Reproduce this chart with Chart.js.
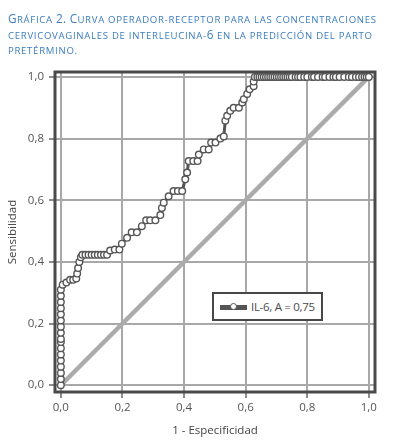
<!DOCTYPE html>
<html><head><meta charset="utf-8">
<script src="https://cdn.jsdelivr.net/npm/chart.js@4/dist/chart.umd.min.js"></script>
<style>
html,body{margin:0;padding:0;background:#fff;}
#wrap{position:relative;width:393px;height:448px;overflow:hidden;}
#title{position:absolute;left:8px;top:11px;width:385px;font-family:"Open Sans",sans-serif;font-size:9.6px;letter-spacing:0.7px;line-height:15px;color:#3b7dbf;text-transform:uppercase;white-space:nowrap;}
#title .c{font-size:11.8px;letter-spacing:0.3px;}
#c{position:absolute;left:0;top:0;}
#legend{position:absolute;left:212px;top:292px;width:111px;height:29px;box-sizing:border-box;border:2px solid #474747;background:#fff;font-family:"Open Sans",sans-serif;font-size:11.5px;color:#4a4a4a;white-space:nowrap;}
#legend .bar{position:absolute;left:6px;top:10.5px;width:27px;height:5px;background:#555;}
#legend .dot{position:absolute;left:15.5px;top:9px;width:5px;height:5px;border:1.5px solid #555;border-radius:50%;background:#fff;}
#legend .txt{position:absolute;left:37px;top:5px;line-height:16px;letter-spacing:-0.3px;}
</style></head>
<body><div id="wrap">
<canvas id="c" width="393" height="448"></canvas>
<div id="title"><span class="c">G</span>ráfica <span class="c">2.</span> <span class="c">C</span>urva operador-receptor para las concentraciones<br>cervicovaginales de interleucina-<span class="c">6</span> en la predicción del parto<br>pretérmino.</div>
<div id="legend"><span class="bar"></span><span class="dot"></span><span class="txt">IL-6, A = 0,75</span></div>
</div>
<script>
const rocX = [0,0,0,0,0,0,0,0,0,0,0,0,0,0,0,0,0,
  0.006,0.018,0.03,0.04,0.05,0.053,0.056,0.06,0.065,0.07,0.08,0.09,0.10,0.11,0.12,0.13,0.14,0.15,
  0.16,0.175,0.19,0.198,0.215,0.23,0.247,0.263,0.277,0.29,0.307,0.323,0.328,0.334,0.35,0.366,0.38,0.394,
  0.404,0.41,0.415,0.43,0.444,0.448,0.464,0.48,0.488,0.502,0.518,0.529,0.534,0.54,0.55,0.561,0.578,
  0.589,0.594,0.605,0.613,0.626,0.626,0.63,
  0.638,0.645,0.652,0.659,0.666,0.673,0.68,0.687,0.694,0.701,0.708,0.715,0.722,0.729,0.736,0.743,0.75,
  0.762,0.77,0.778,0.79,0.80,0.815,0.822,0.835,0.85,0.858,0.872,0.885,0.893,0.905,0.92,0.935,0.945,
  0.958,0.968,0.978,0.986,0.993,1.0];
const rocY = [0,0.02,0.04,0.06,0.08,0.10,0.12,0.14,0.15,0.17,0.19,0.21,0.23,0.25,0.27,0.29,0.31,
  0.326,0.333,0.342,0.342,0.346,0.362,0.38,0.40,0.415,0.423,0.423,0.423,0.423,0.423,0.423,0.423,0.423,0.423,
  0.437,0.44,0.44,0.459,0.478,0.496,0.496,0.516,0.535,0.535,0.535,0.552,0.575,0.592,0.613,0.63,0.63,0.63,
  0.668,0.69,0.727,0.727,0.727,0.748,0.765,0.765,0.787,0.787,0.80,0.807,0.858,0.874,0.89,0.90,0.90,
  0.917,0.928,0.945,0.96,0.97,0.985,1.0,
  1,1,1,1,1,1,1,1,1,1,1,1,1,1,1,1,1,
  1,1,1,1,1,1,1,1,1,1,1,1,1,1,1,1,1,
  1,1,1,1,1,1];
const diagX = [0, 1];
const diagY = [0, 1];
const tickValues = [0, 0.2, 0.4, 0.6, 0.8, 1.0];
const tickLabels = ['0,0', '0,2', '0,4', '0,6', '0,8', '1,0'];
const seriesName = 'IL-6, A = 0,75';
const xTitle = '1 - Especificidad';
const yTitle = 'Sensibilidad';

const rocData = rocX.map((x, i) => ({x: x, y: rocY[i]}));
const diagData = diagX.map((x, i) => ({x: x, y: diagY[i]}));

const frame = {
  id: 'frame',
  beforeDatasetsDraw(chart) {
    const a = chart.chartArea, ctx = chart.ctx;
    ctx.save();
    ctx.strokeStyle = '#4a4a4a';
    ctx.lineWidth = 3;
    ctx.strokeRect(a.left, a.top, a.right - a.left, a.bottom - a.top);
    ctx.restore();
  }
};

const font = {family: '"Open Sans", sans-serif', size: 11.5};
function setTicks(scale) { scale.ticks = tickValues.map(v => ({value: v})); }

new Chart(document.getElementById('c'), {
  type: 'line',
  data: {
    datasets: [
      {label: seriesName, data: rocData, borderColor: '#555', borderWidth: 3, pointRadius: 3.3,
       pointBackgroundColor: '#fff', pointBorderColor: '#555', pointBorderWidth: 1.4, tension: 0, order: 1},
      {label: 'ref', data: diagData, borderColor: '#ababab', borderWidth: 4.5, pointRadius: 0, tension: 0, order: 2}
    ]
  },
  options: {
    responsive: false, animation: false, devicePixelRatio: 1,
    layout: {padding: {top: 72, right: 18, left: 0, bottom: 0}},
    plugins: {legend: {display: false}, tooltip: {enabled: false}},
    scales: {
      x: {type: 'linear', min: -0.019, max: 1.02,
        afterBuildTicks: setTicks,
        afterFit(s) { s.height = 56; },
        border: {display: false},
        grid: {color: '#a8a8a8', lineWidth: 2, tickColor: '#666', tickWidth: 1.5, tickLength: 6},
        ticks: {font: font, color: '#555', padding: 3, maxRotation: 0, autoSkip: false,
          callback: (v, i) => tickLabels[i]},
        title: {display: true, text: xTitle, font: font, color: '#444', padding: {top: 0, bottom: 10}}
      },
      y: {type: 'linear', min: -0.022, max: 1.016,
        afterBuildTicks: setTicks,
        afterFit(s) { s.width = 55; },
        border: {display: false},
        grid: {color: '#a8a8a8', lineWidth: 2, tickColor: '#666', tickWidth: 1.5, tickLength: 6},
        ticks: {font: font, color: '#555', padding: 5, autoSkip: false,
          callback: (v, i) => tickLabels[i]},
        title: {display: true, text: yTitle, font: font, color: '#444', padding: {top: 6, bottom: 0}}
      }
    }
  },
  plugins: [frame]
});
</script>
</body></html>
